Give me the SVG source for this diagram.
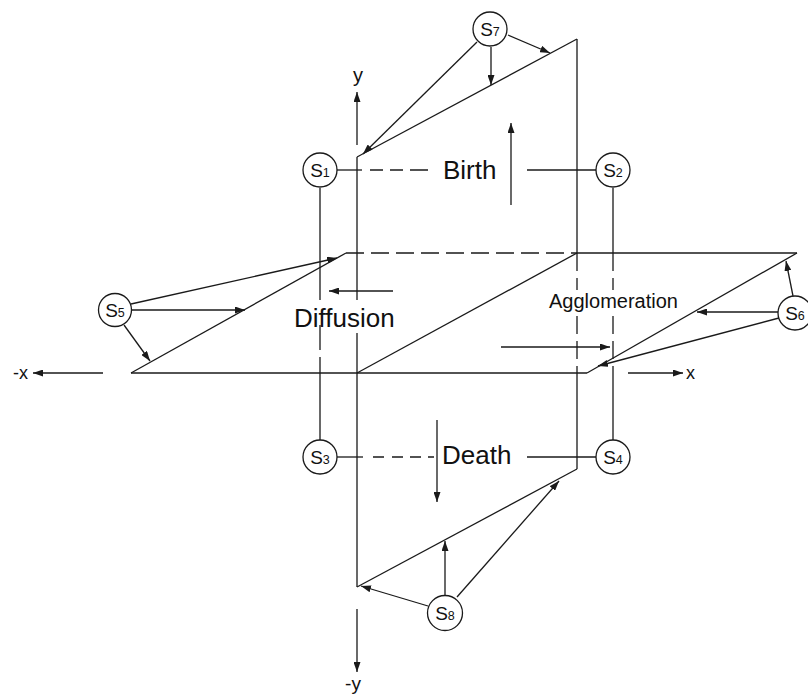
<svg xmlns="http://www.w3.org/2000/svg" width="808" height="697" viewBox="0 0 808 697">
<defs>
<marker id="ah" markerWidth="10" markerHeight="7" refX="10" refY="3.5" orient="auto" markerUnits="userSpaceOnUse">
<path d="M0,0 L10,3.5 L0,7 z" fill="#1a1a1a"/>
</marker>
</defs>
<style>
.l{stroke:#1a1a1a;stroke-width:1.3;fill:none}
.d{stroke:#1a1a1a;stroke-width:1.3;fill:none;stroke-dasharray:18 7}
.a{stroke:#1a1a1a;stroke-width:1.3;fill:none;marker-end:url(#ah)}
.n{fill:#fff;stroke:#1a1a1a;stroke-width:1.3}
.t{font-family:"Liberation Sans",Arial,sans-serif;fill:#111}
.s{font-family:"Liberation Sans",Arial,sans-serif;fill:#111;font-size:19px;text-anchor:middle}
</style>
<rect width="808" height="697" fill="#fff"/>
<g id="connectors">
<path class="l" d="M357,157 L577,39"/>
<path class="l" d="M357,587 L577,469"/>
<path class="l" d="M357,157 V300 M357,333 V587"/>
<path class="l" d="M577,39 V253 M577,373 V469"/>
<path class="d" d="M577,253 V290 M577,316 V373"/>
<path class="l" d="M131,373 H587"/>
<path class="l" d="M131,373 L346,253"/>
<path class="d" d="M346,253 H577"/>
<path class="l" d="M577,253 H797"/>
<path class="l" d="M587,373 L797,253"/>
<path class="l" d="M357,373 L577,253"/>
<path class="l" d="M320,188 V300 M320,325 V350 M320,357 V441"/>
<path class="l" d="M613,188 V253 M613,373 V441"/>
<path class="d" d="M613,253 V290 M613,316 V373"/>
<path class="l" d="M337,170 H362"/>
<path class="l" d="M370,170 H383 M390,170 H403 M410,170 H428"/>
<path class="l" d="M527,170 H596"/>
<path class="l" d="M337,457 H363"/>
<path class="l" d="M373,457 H384 M392,457 H403 M410,457 H421 M428,457 H434"/>
<path class="l" d="M527,457 H596"/>
<path class="a" d="M357,145 V92"/>
<path class="a" d="M357,609 V672"/>
<path class="a" d="M103,373 H33"/>
<path class="a" d="M628,373 H683"/>
<path class="a" d="M511,205 V123"/>
<path class="a" d="M437,420 V502"/>
<path class="a" d="M393,291 H329"/>
<path class="a" d="M501,347 H610"/>
<path class="a" d="M477,42 L363,154"/>
<path class="a" d="M491,47 V85"/>
<path class="a" d="M508,35 L550,53"/>
<path class="a" d="M131,304 L337,258"/>
<path class="a" d="M131,310 H245"/>
<path class="a" d="M124,325 L150,361"/>
<path class="a" d="M793,296 L786,261"/>
<path class="a" d="M778,312 H697"/>
<path class="a" d="M779,318 L598,366"/>
<path class="a" d="M428,606 L361,586"/>
<path class="a" d="M445,595 V541"/>
<path class="a" d="M457,597 L559,481"/>
</g>
<g id="S1"><circle class="n" cx="320" cy="170" r="17"/><text class="s" x="320" y="177">S<tspan font-size="12.5">1</tspan></text></g>
<g id="S2"><circle class="n" cx="613" cy="170" r="17"/><text class="s" x="613" y="177">S<tspan font-size="12.5">2</tspan></text></g>
<g id="S3"><circle class="n" cx="320" cy="457" r="17"/><text class="s" x="320" y="464">S<tspan font-size="12.5">3</tspan></text></g>
<g id="S4"><circle class="n" cx="613" cy="457" r="17"/><text class="s" x="613" y="464">S<tspan font-size="12.5">4</tspan></text></g>
<g id="S5"><circle class="n" cx="115" cy="310" r="16.5"/><text class="s" x="115" y="317">S<tspan font-size="12.5">5</tspan></text></g>
<g id="S6"><circle class="n" cx="795" cy="313" r="17"/><text class="s" x="795" y="320">S<tspan font-size="12.5">6</tspan></text></g>
<g id="S7"><circle class="n" cx="490" cy="29" r="17"/><text class="s" x="490" y="36">S<tspan font-size="12.5">7</tspan></text></g>
<g id="S8"><circle class="n" cx="445" cy="613" r="17.5"/><text class="s" x="445" y="620">S<tspan font-size="12.5">8</tspan></text></g>
<g id="labels">
<text class="t" x="443" y="179" font-size="26">Birth</text>
<text class="t" x="442" y="464" font-size="26">Death</text>
<text class="t" x="294" y="327" font-size="26">Diffusion</text>
<text class="t" x="549" y="308" font-size="20">Agglomeration</text>
<text class="t" x="358" y="82" font-size="20" text-anchor="middle">y</text>
<text class="t" x="353" y="690" font-size="19" text-anchor="middle">-y</text>
<text class="t" x="13" y="379" font-size="18">-x</text>
<text class="t" x="686" y="379" font-size="18">x</text>
</g>
</svg>
